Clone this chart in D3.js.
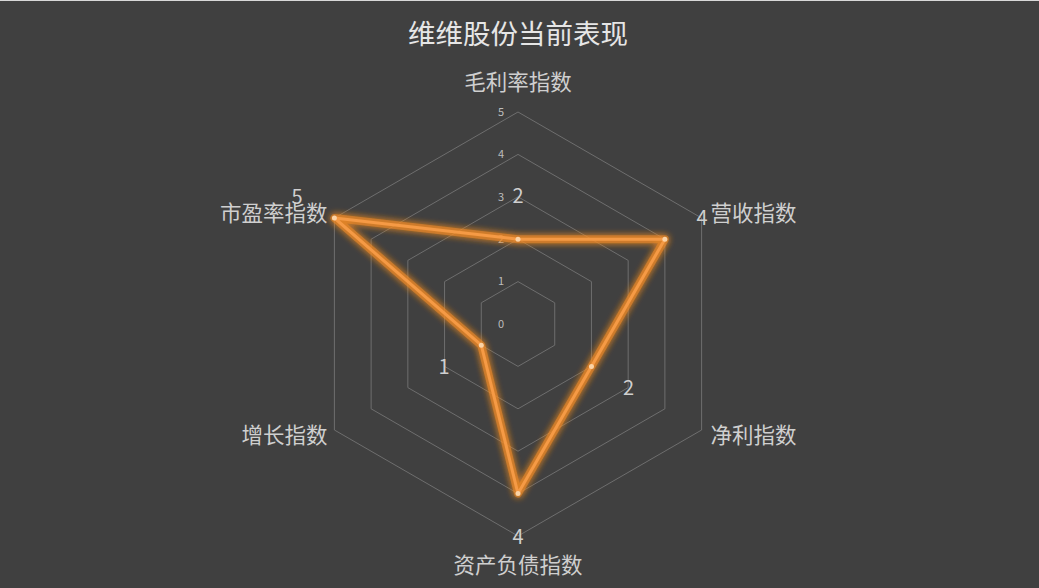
<!DOCTYPE html>
<html>
<head>
<meta charset="utf-8">
<script src="https://cdn.jsdelivr.net/npm/d3@7"></script>
<style>
  html, body { margin: 0; padding: 0; background: #404040; overflow: hidden; }
  body { border-top: 1px solid #d8d8d8; }
  svg { display: block; font-family: "Microsoft YaHei", "Noto Sans CJK SC", sans-serif; }
</style>
</head>
<body>
<div id="chart"></div>
<script>
    var title = "维维股份当前表现";
    var indicators = ["毛利率指数", "营收指数", "净利指数", "资产负债指数", "增长指数", "市盈率指数"];
    var values = [2, 4, 2, 4, 1, 5];
    var ticks = [0, 1, 2, 3, 4, 5];

    var width = 1039, height = 587;
    var cx = 518, cy = 323, radius = 212;

    var svg = d3.select("#chart").append("svg")
        .attr("width", width)
        .attr("height", height);

    var defs = svg.append("defs");
    var glow = defs.append("filter").attr("id", "glow")
        .attr("x", "-20%").attr("y", "-20%").attr("width", "140%").attr("height", "140%");
    glow.append("feGaussianBlur").attr("in", "SourceGraphic").attr("stdDeviation", 3.5).attr("result", "blur");
    var merge = glow.append("feMerge");
    merge.append("feMergeNode").attr("in", "blur");
    merge.append("feMergeNode").attr("in", "blur");
    merge.append("feMergeNode").attr("in", "SourceGraphic");

    svg.append("text")
        .attr("x", cx).attr("y", 43)
        .attr("text-anchor", "middle")
        .attr("fill", "#e6e6e6")
        .style("font-size", "27.5px")
        .text(title);

    var r = d3.scaleLinear().domain([0, 5]).range([0, radius]);
    var angle = d3.scaleLinear().domain([0, indicators.length]).range([0, 2 * Math.PI]);

    function pt(i, v) {
        var a = angle(i);
        return [cx + r(v) * Math.sin(a), cy - r(v) * Math.cos(a)];
    }

    // grid hexagons
    var g = svg.append("g");
    g.selectAll(".level").data(ticks.slice(1)).enter().append("polygon")
        .attr("class", "level")
        .attr("points", function (t) {
            return indicators.map(function (d, i) { return pt(i, t).join(","); }).join(" ");
        })
        .attr("fill", "none")
        .attr("stroke", "#6e6e6e")
        .attr("stroke-width", 1);

    // tick labels
    g.selectAll(".tick").data(ticks).enter().append("text")
        .attr("class", "tick")
        .attr("x", cx - 17)
        .attr("y", function (t) { return cy - r(t); })
        .attr("dy", "0.35em")
        .attr("text-anchor", "middle")
        .attr("fill", "#bdbdbd")
        .style("font-size", "11px")
        .text(function (t) { return t; });

    // indicator names
    g.selectAll(".name").data(indicators).enter().append("text")
        .attr("class", "name")
        .each(function (d, i) {
            var p = pt(i, 5);
            var s = Math.sin(angle(i)), c = Math.cos(angle(i));
            var el = d3.select(this);
            if (Math.abs(s) < 0.01) {
                el.attr("x", p[0]).attr("text-anchor", "middle");
                if (c > 0) el.attr("y", p[1] - 30).attr("dy", "0.35em");
                else el.attr("y", p[1] + 29).attr("dy", "0.35em");
            } else {
                el.attr("x", p[0] + (s > 0 ? 9 : -7))
                    .attr("y", p[1] + (c > 0 ? -5 : 5))
                    .attr("dy", "0.35em")
                    .attr("text-anchor", s > 0 ? "start" : "end");
            }
        })
        .attr("fill", "#cfcfcf")
        .style("font-size", "21.5px")
        .text(function (d) { return d; });

    // data area
    var line = d3.line().curve(d3.curveLinearClosed);
    var pts = values.map(function (v, i) { return pt(i, v); });

    svg.append("path")
        .attr("d", line(pts))
        .attr("fill", "none")
        .attr("stroke", "#f08a24")
        .attr("stroke-width", 8)
        .attr("stroke-opacity", 0.55)
        .attr("stroke-linejoin", "round")
        .attr("filter", "url(#glow)");

    svg.append("path")
        .attr("d", line(pts))
        .attr("fill", "none")
        .attr("stroke", "#f59a45")
        .attr("stroke-width", 3)
        .attr("stroke-linejoin", "round");

    svg.selectAll(".dot").data(values).enter().append("circle")
        .attr("class", "dot")
        .attr("cx", function (v, i) { return pt(i, v)[0]; })
        .attr("cy", function (v, i) { return pt(i, v)[1]; })
        .attr("r", 2.5)
        .attr("fill", "#fbd3a6");

    // value labels, pushed out along each spoke
    svg.selectAll(".val").data(values).enter().append("text")
        .attr("class", "val")
        .attr("x", function (v, i) { return pt(i, v)[0] + 43 * Math.sin(angle(i)); })
        .attr("y", function (v, i) { return pt(i, v)[1] - 43 * Math.cos(angle(i)); })
        .attr("dy", "0.35em")
        .attr("text-anchor", "middle")
        .attr("fill", "#cfcfcf")
        .style("font-size", "20px")
        .text(function (v) { return v; });
</script>
</body>
</html>
